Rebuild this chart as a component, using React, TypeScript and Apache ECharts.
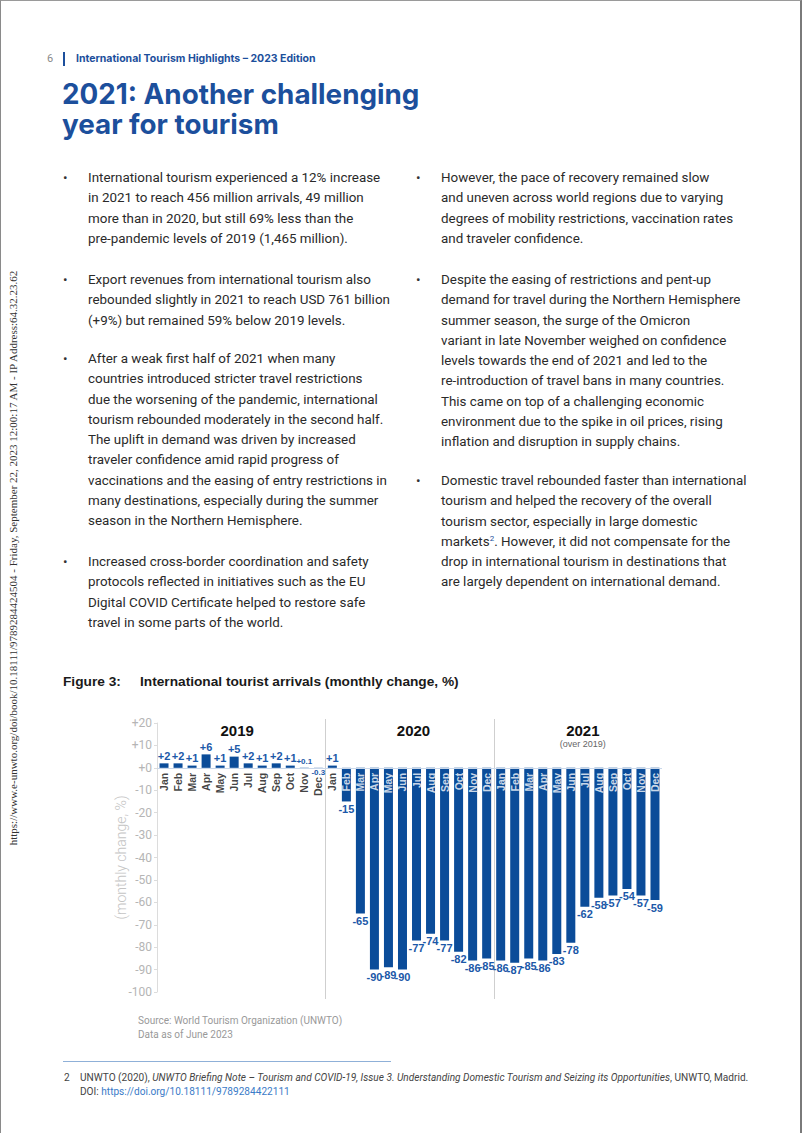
import React, { useEffect, useRef } from "react";
import * as echarts from "echarts";

const monthNames = ["Jan", "Feb", "Mar", "Apr", "May", "Jun", "Jul", "Aug", "Sep", "Oct", "Nov", "Dec"];
const yearLabels = ["2019", "2020", "2021"];
const yearNotes = ["", "", "(over 2019)"];
const values2019 = [2, 2, 1, 6, 1, 5, 2, 1, 2, 1, 0.1, -0.3];
const values2020 = [1, -15, -65, -90, -89, -90, -77, -74, -77, -82, -86, -85];
const values2021 = [-86, -87, -85, -86, -83, -78, -62, -58, -57, -54, -57, -59];
const yMin = -100;
const yMax = 20;
const yStep = 10;

const allValues = [...values2019, ...values2020, ...values2021];
const allMonths = [...monthNames, ...monthNames, ...monthNames];

const BAR = "#0b4c99";
const LABEL = "#1b58a8";
const BLUE = "#1c4f9c";

const leftParas: string[][] = [
  [
    "International tourism experienced a 12% increase",
    "in 2021 to reach 456 million arrivals, 49 million",
    "more than in 2020, but still 69% less than the",
    "pre-pandemic levels of 2019 (1,465 million).",
  ],
  [
    "Export revenues from international tourism also",
    "rebounded slightly in 2021 to reach USD 761 billion",
    "(+9%) but remained 59% below 2019 levels.",
  ],
  [
    "After a weak first half of 2021 when many",
    "countries introduced stricter travel restrictions",
    "due the worsening of the pandemic, international",
    "tourism rebounded moderately in the second half.",
    "The uplift in demand was driven by increased",
    "traveler confidence amid rapid progress of",
    "vaccinations and the easing of entry restrictions in",
    "many destinations, especially during the summer",
    "season in the Northern Hemisphere.",
  ],
  [
    "Increased cross-border coordination and safety",
    "protocols reflected in initiatives such as the EU",
    "Digital COVID Certificate helped to restore safe",
    "travel in some parts of the world.",
  ],
];
const leftTops = [167, 269, 348, 551];

const rightParas: string[][] = [
  [
    "However, the pace of recovery remained slow",
    "and uneven across world regions due to varying",
    "degrees of mobility restrictions, vaccination rates",
    "and traveler confidence.",
  ],
  [
    "Despite the easing of restrictions and pent-up",
    "demand for travel during the Northern Hemisphere",
    "summer season, the surge of the Omicron",
    "variant in late November weighed on confidence",
    "levels towards the end of 2021 and led to the",
    "re-introduction of travel bans in many countries.",
    "This came on top of a challenging economic",
    "environment due to the spike in oil prices, rising",
    "inflation and disruption in supply chains.",
  ],
  [
    "Domestic travel rebounded faster than international",
    "tourism and helped the recovery of the overall",
    "tourism sector, especially in large domestic",
    "markets\u00b2. However, it did not compensate for the",
    "drop in international tourism in destinations that",
    "are largely dependent on international demand.",
  ],
];
const rightTops = [167, 269, 470];

const bodyFont = "Roboto, 'Noto Sans', sans-serif";
const chartFont = "'Liberation Sans', Arial, sans-serif";

function Para({ lines, left, top }: { lines: string[]; left: number; top: number }) {
  return (
    <div style={{ position: "absolute", left, top }}>
      <div style={{ position: "absolute", left: -25, top: 0, lineHeight: "20.3px", fontSize: 13.4, color: "#333" }}>•</div>
      {lines.map((l, i) => {
        const sup = l.indexOf("\u00b2");
        return (
          <div key={i} style={{ whiteSpace: "nowrap", lineHeight: "20.3px", fontSize: 13.4, color: "#2a2a2a" }}>
            {sup >= 0 ? (
              <>
                {l.slice(0, sup)}
                <sup style={{ fontSize: 8, color: BLUE, lineHeight: 0 }}>2</sup>
                {l.slice(sup + 1)}
              </>
            ) : (
              l
            )}
          </div>
        );
      })}
    </div>
  );
}

function Chart() {
  const ref = useRef<HTMLDivElement>(null);
  useEffect(() => {
    if (!ref.current) return;
    const chart = echarts.init(ref.current, null, { renderer: "svg" });
    const option: any = {
      animation: false,
      grid: { left: 156, width: 505, top: 27, height: 269, containLabel: false },
      xAxis: {
        type: "category",
        data: allMonths,
        axisLine: { show: false },
        axisTick: { show: false },
        axisLabel: { show: false },
      },
      yAxis: {
        type: "value",
        min: yMin,
        max: yMax,
        interval: yStep,
        name: "(monthly change, %)",
        nameLocation: "middle",
        nameGap: 29,
        nameMoveOverlap: false,
        nameTextStyle: { fontSize: 14, color: "#c4c4c4", fontFamily: bodyFont, fontWeight: 300 },
        axisLine: { show: true, lineStyle: { color: "#dcdcdc" } },
        axisTick: { show: true, length: 3, lineStyle: { color: "#dcdcdc" } },
        splitLine: { show: false },
        axisLabel: {
          fontSize: 12,
          color: "#b5b5b5",
          margin: 5,
          fontFamily: bodyFont,
          formatter: (v: number) => (v > 0 ? "+" + v : v === 0 ? "+0" : String(v)),
        },
      },
      series: [
        {
          type: "bar",
          barWidth: 9,
          itemStyle: { color: BAR },
          label: {
            show: true,
            color: LABEL,
            fontWeight: "bold",
            fontFamily: chartFont,
            distance: 2,
            formatter: (p: any) => (p.value > 0 ? "+" + p.value : String(p.value)),
          },
          markLine: {
            silent: true,
            symbol: "none",
            label: { show: false },
            lineStyle: { color: "#c9d7ea", width: 1, type: "solid" },
            data: [{ yAxis: 0 }],
          },
          data: allValues.map((v) => ({
            value: v,
            label: {
              position: v >= 0 ? "top" : "bottom",
              fontSize: Math.abs(v) < 1 ? 8 : 11,
              distance: v < 0 && v > -1 ? 0 : 2,
            },
          })),
        },
        {
          type: "scatter",
          symbolSize: 0,
          z: 5,
          silent: true,
          label: {
            show: true,
            position: "bottom",
            distance: 5,
            rotate: 90,
            align: "right",
            verticalAlign: "middle",
            fontSize: 10.5,
            fontWeight: "bold",
            fontFamily: chartFont,
            formatter: (p: any) => allMonths[p.dataIndex],
          },
          data: allValues.map((v, i) => ({
            value: [i, 0],
            label: { color: v < -5 ? "#ffffff" : "#111111", distance: v < 0 && v > -1 ? 9 : 5 },
          })),
        },
      ],
    };
    chart.setOption(option);

    const px = (i: number) => chart.convertToPixel({ xAxisIndex: 0 }, i) as number;
    const yearShift = [-4, 4, 5];
    const graphics: any[] = [];
    for (let k = 1; k < 3; k++) {
      const x = Math.round((px(12 * k - 1) + px(12 * k)) / 2) + 0.5;
      graphics.push({
        type: "line",
        shape: { x1: x, y1: 23, x2: x, y2: 303 },
        style: { stroke: "#cfcfcf", lineWidth: 1 },
        z: 1,
      });
    }
    yearLabels.forEach((yl, k) => {
      const cx = (px(12 * k) + px(12 * k + 11)) / 2 + yearShift[k];
      graphics.push({
        type: "text",
        x: cx,
        y: 34,
        style: {
          text: yl,
          fill: "#111",
          font: "bold 15px 'Liberation Sans', Arial, sans-serif",
          textAlign: "center",
          textVerticalAlign: "middle",
        },
      });
      if (yearNotes[k]) {
        graphics.push({
          type: "text",
          x: cx,
          y: 48,
          style: {
            text: yearNotes[k],
            fill: "#666",
            font: "9px 'Liberation Sans', Arial, sans-serif",
            textAlign: "center",
            textVerticalAlign: "middle",
          },
        });
      }
    });
    chart.setOption({ graphic: graphics });
    return () => chart.dispose();
  }, []);
  return <div ref={ref} style={{ position: "absolute", left: 0, top: 695, width: 802, height: 330 }} />;
}

export default function App() {
  return (
    <div
      style={{
        position: "absolute",
        left: 0,
        top: 0,
        width: 802,
        height: 1133,
        overflow: "hidden",
        background: "#fff",
        boxSizing: "border-box",
        borderTop: "1px solid #9a9a9a",
        borderLeft: "1px solid #8a8a8a",
        borderRight: "2px solid #7a7a7a",
        fontFamily: bodyFont,
      }}
    >
      {/* side stamp */}
      <div
        style={{
          position: "absolute",
          left: 12,
          top: 557,
          transform: "translate(-50%, -50%) rotate(-90deg)",
          whiteSpace: "nowrap",
          fontFamily: "'Liberation Serif', 'Times New Roman', serif",
          fontSize: 11,
          color: "#333",
        }}
      >
        https://www.e-unwto.org/doi/book/10.18111/9789284424504 - Friday, September 22, 2023 12:00:17 AM - IP Address:64.32.23.62
      </div>

      {/* header */}
      <div style={{ position: "absolute", left: 46, top: 51, fontSize: 11, color: "#8a8a8a", lineHeight: "14px" }}>6</div>
      <div style={{ position: "absolute", left: 62, top: 51, width: 2, height: 14, background: BLUE }} />
      <div
        style={{
          position: "absolute",
          left: 75,
          top: 51,
          fontSize: 10.5,
          fontWeight: 700,
          color: BLUE,
          fontFamily: "Inter, sans-serif",
          lineHeight: "14px",
          whiteSpace: "nowrap",
        }}
      >
        International Tourism Highlights – 2023 Edition
      </div>

      {/* title */}
      <div
        style={{
          position: "absolute",
          left: 61,
          top: 79,
          fontSize: 27.8,
          fontWeight: 700,
          color: BLUE,
          fontFamily: "Inter, sans-serif",
          lineHeight: "29.5px",
          whiteSpace: "nowrap",
        }}
      >
        <div>2021: Another challenging</div>
        <div>year for tourism</div>
      </div>

      {leftParas.map((p, i) => (
        <Para key={"l" + i} lines={p} left={87} top={leftTops[i]} />
      ))}
      {rightParas.map((p, i) => (
        <Para key={"r" + i} lines={p} left={440} top={rightTops[i]} />
      ))}

      {/* figure title */}
      <div
        style={{
          position: "absolute",
          left: 62,
          top: 672,
          fontSize: 13.7,
          fontWeight: 700,
          color: "#1a1a1a",
          fontFamily: chartFont,
          lineHeight: "18px",
          whiteSpace: "nowrap",
        }}
      >
        Figure 3:
      </div>
      <div
        style={{
          position: "absolute",
          left: 139,
          top: 672,
          fontSize: 13.7,
          fontWeight: 700,
          color: "#1a1a1a",
          fontFamily: chartFont,
          lineHeight: "18px",
          whiteSpace: "nowrap",
        }}
      >
        International tourist arrivals (monthly change, %)
      </div>

      <Chart />

      {/* source */}
      <div style={{ position: "absolute", left: 137, top: 1013, fontSize: 10, color: "#999", lineHeight: "14px", whiteSpace: "nowrap" }}>
        <div>Source: World Tourism Organization (UNWTO)</div>
        <div>Data as of June 2023</div>
      </div>

      {/* footnote */}
      <div style={{ position: "absolute", left: 62, top: 1060, width: 328, height: 1, background: "#8fb0d8" }} />
      <div style={{ position: "absolute", left: 63, top: 1070, fontSize: 10.1, color: "#444", lineHeight: "14px" }}>2</div>
      <div style={{ position: "absolute", left: 79, top: 1070, fontSize: 10.1, color: "#444", lineHeight: "14px", whiteSpace: "nowrap" }}>
        <div>
          UNWTO (2020),{" "}
          <i>
            UNWTO Briefing Note – Tourism and COVID-19, Issue 3. Understanding Domestic Tourism and Seizing its Opportunities
          </i>
          , UNWTO, Madrid.
        </div>
        <div>
          DOI: <span style={{ color: "#3a7bc8" }}>https://doi.org/10.18111/9789284422111</span>
        </div>
      </div>
    </div>
  );
}
